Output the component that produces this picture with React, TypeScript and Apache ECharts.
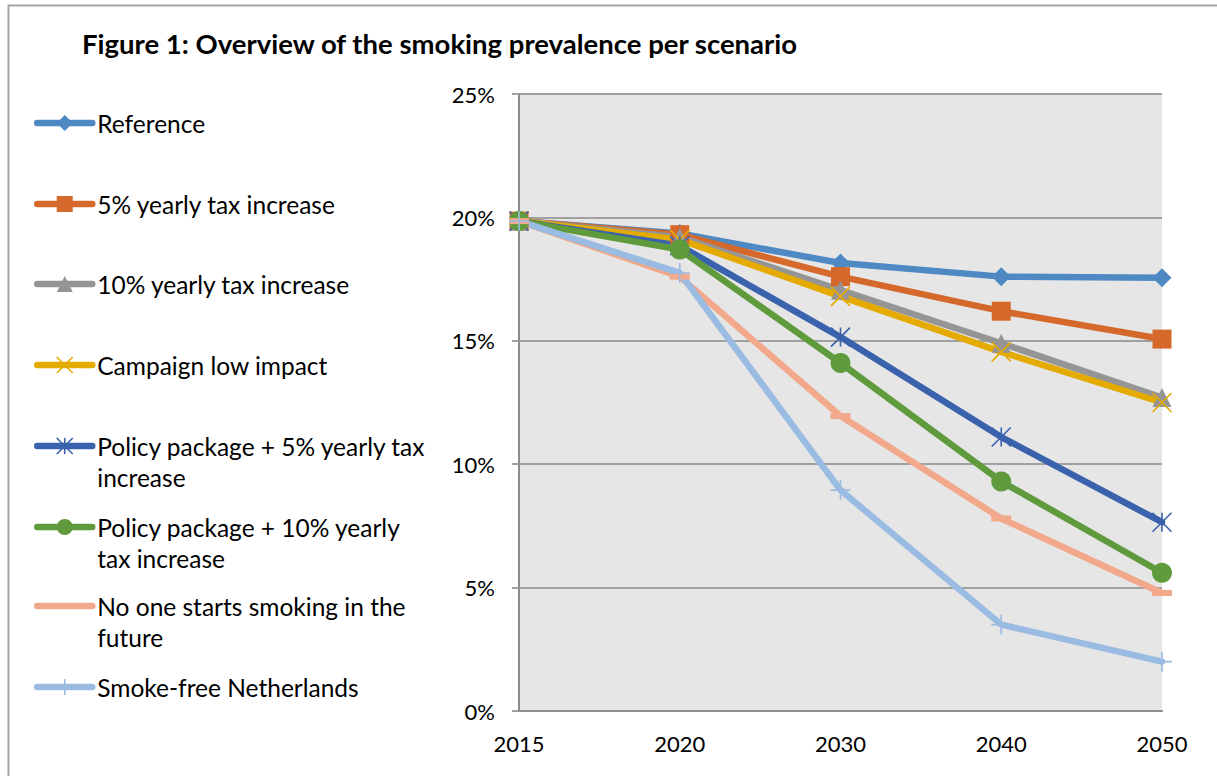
import React, { useEffect, useRef } from "react";
import * as echarts from "echarts";

// Smoking prevalence (%) per scenario
const years = ["2015", "2020", "2030", "2040", "2050"];
const reference = [19.85, 19.35, 18.15, 17.6, 17.55];
const tax5 = [19.85, 19.3, 17.6, 16.2, 15.07];
const tax10 = [19.85, 19.2, 17.05, 14.9, 12.7];
const campaignLow = [19.85, 19.1, 16.8, 14.55, 12.5];
const policy5 = [19.85, 18.85, 15.15, 11.1, 7.65];
const policy10 = [19.85, 18.7, 14.1, 9.3, 5.6];
const noStarters = [19.85, 17.6, 11.95, 7.8, 4.78];
const smokeFree = [19.85, 17.75, 8.95, 3.5, 2.0];

const yTicks = { min: 0, max: 25, interval: 5 };

const FONT = "Lato";

const X_MARK = "path://M0 0L20 20M20 0L0 20";
const STAR_MARK = "path://M0 0L20 20M20 0L0 20M10 0L10 20";
const PLUS_MARK = "path://M10 0L10 20M0 10L20 10";

type Scenario = {
  name: string;
  label: string[];
  data: number[];
  color: string;
  symbol: string;
  symbolSize: number | number[];
  stroke?: boolean;
  hideLegendMark?: boolean;
  legendY: number;
};

const scenarios: Scenario[] = [
  { name: "Reference", label: ["Reference"], data: reference, color: "#4e89c3", symbol: "diamond", symbolSize: 19, legendY: 123 },
  { name: "5% yearly tax increase", label: ["5% yearly tax increase"], data: tax5, color: "#d5692b", symbol: "rect", symbolSize: 19, legendY: 204 },
  { name: "10% yearly tax increase", label: ["10% yearly tax increase"], data: tax10, color: "#959595", symbol: "triangle", symbolSize: 19, legendY: 284 },
  { name: "Campaign low impact", label: ["Campaign low impact"], data: campaignLow, color: "#e5aa00", symbol: X_MARK, symbolSize: 19, stroke: true, legendY: 365 },
  { name: "Policy package + 5% yearly tax increase", label: ["Policy package + 5% yearly tax", "increase"], data: policy5, color: "#3a62ad", symbol: STAR_MARK, symbolSize: 19, stroke: true, legendY: 446 },
  { name: "Policy package + 10% yearly tax increase", label: ["Policy package + 10% yearly", "tax increase"], data: policy10, color: "#5f9a3c", symbol: "circle", symbolSize: 20, legendY: 527 },
  { name: "No one starts smoking in the future", label: ["No one starts smoking in the", "future"], data: noStarters, color: "#f2a88a", symbol: "rect", symbolSize: [20, 6], hideLegendMark: true, legendY: 606 },
  { name: "Smoke-free Netherlands", label: ["Smoke-free Netherlands"], data: smokeFree, color: "#9abbe2", symbol: PLUS_MARK, symbolSize: 20, stroke: true, legendY: 687 },
];

const LINE_H = 31;

export default function App() {
  const ref = useRef<HTMLDivElement>(null);

  useEffect(() => {
    if (!ref.current) return;
    const chart = echarts.init(ref.current, undefined, { renderer: "svg" });

    const series = scenarios.map((s) => ({
      name: s.name,
      type: "line",
      data: s.data,
      symbol: s.symbol,
      symbolSize: s.symbolSize,
      showSymbol: true,
      lineStyle: { color: s.color, width: 6.5, cap: "round", join: "round" },
      itemStyle: {
        color: s.color,
        borderColor: s.color,
        borderWidth: s.stroke ? 1.6 : 0,
      },
      emphasis: { disabled: true },
    }));

    // One legend per entry; wrapped entries get a blank leading line so the
    // icon sits beside the first line of text.
    const legends = scenarios.map((s) => {
      const wrapped = s.label.length > 1;
      const text = wrapped ? "\n" + s.label.join("\n") : s.label[0];
      return {
        show: true,
        data: [s.name],
        orient: "vertical",
        left: 34,
        top: s.legendY - (wrapped ? LINE_H * 1.5 : LINE_H / 2),
        padding: 0,
        itemWidth: 55,
        itemHeight: 20,
        selectedMode: false,
        formatter: () => text,
        itemStyle: {
          color: s.color,
          borderColor: s.color,
          borderWidth: s.stroke ? 1.6 : 0,
          opacity: s.hideLegendMark ? 0 : 1,
        },
        lineStyle: { width: 6.5, color: s.color, cap: "round" },
        textStyle: {
          fontFamily: FONT,
          fontSize: 24.5,
          color: "#000",
          lineHeight: LINE_H,
        },
      };
    });

    chart.setOption({
      animation: false,
      backgroundColor: "#fff",
      title: {
        text: "Figure 1: Overview of the smoking prevalence per scenario",
        left: 82,
        top: 27,
        padding: 0,
        textStyle: {
          fontFamily: FONT,
          fontSize: 27.5,
          fontWeight: "bold",
          color: "#000",
          lineHeight: 32,
        },
      },
      graphic: [
        {
          type: "rect",
          shape: { x: 8.5, y: 5.5, width: 1400, height: 1000 },
          style: { fill: "none", stroke: "#a6a6a6", lineWidth: 2 },
          silent: true,
        },
      ],
      legend: legends,
      grid: {
        left: 519,
        top: 94,
        right: 55,
        bottom: 65,
        show: true,
        backgroundColor: "#e6e6e6",
        borderWidth: 0,
      },
      xAxis: {
        type: "category",
        data: years,
        boundaryGap: false,
        axisLine: { lineStyle: { color: "#8c8c8c", width: 2 } },
        axisTick: { show: false },
        axisLabel: {
          fontFamily: FONT,
          fontSize: 22,
          color: "#000",
          margin: 21,
        },
        splitLine: { show: false },
      },
      yAxis: {
        type: "value",
        min: yTicks.min,
        max: yTicks.max,
        interval: yTicks.interval,
        axisLine: { show: true, lineStyle: { color: "#8c8c8c", width: 2 } },
        axisTick: { show: true, length: 7, lineStyle: { color: "#a0a0a0", width: 2 } },
        axisLabel: {
          fontFamily: FONT,
          fontSize: 22,
          color: "#000",
          margin: 24,
          formatter: "{value}%",
        },
        splitLine: { lineStyle: { color: "#a0a0a0", width: 2 } },
      },
      series,
    });

    return () => chart.dispose();
  }, []);

  return (
    <div
      ref={ref}
      style={{ position: "fixed", left: 0, top: 0, width: 1217, height: 776 }}
    />
  );
}
